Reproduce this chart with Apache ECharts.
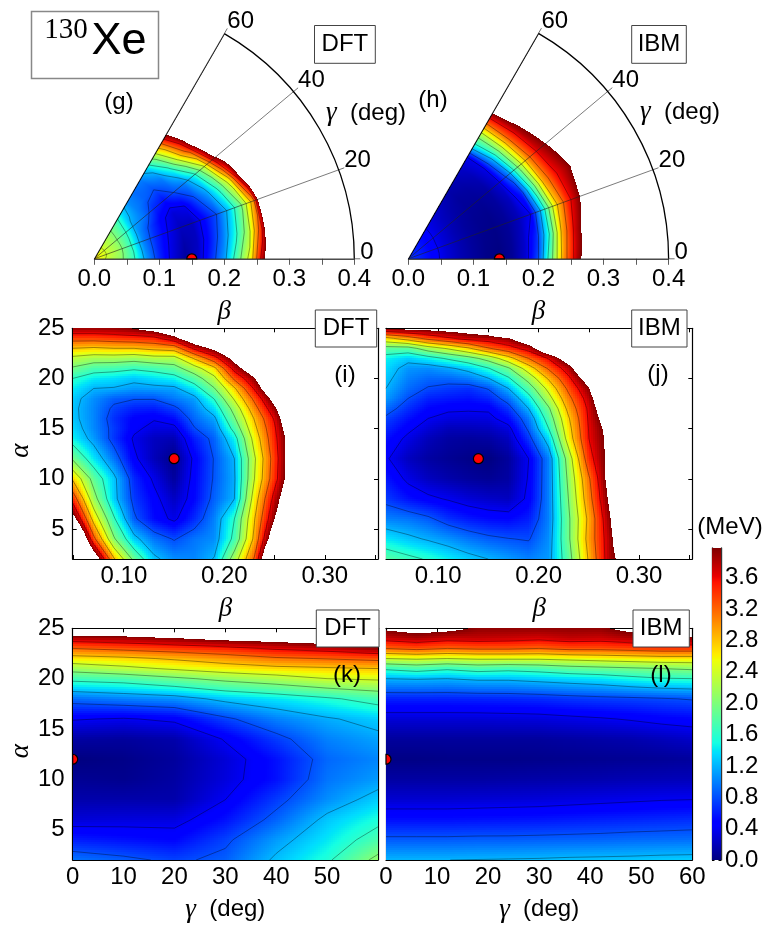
<!DOCTYPE html>
<html><head><meta charset="utf-8">
<style>html,body{margin:0;padding:0;background:#fff}#c{width:772px;height:932px}</style>
<script src="https://cdn.jsdelivr.net/npm/echarts@6/dist/echarts.min.js"></script>
</head><body><div id="c"></div>
<script>
// ---- values (MeV); rows go bottom to top ----
const energyMax = 3.98;
const contourLevels = [0.4,0.8,1.2,1.6,2.0,2.4,2.8,3.2,3.6];
const colorbarTicks = [0,0.4,0.8,1.2,1.6,2.0,2.4,2.8,3.2,3.6];

const betaG = [0,.02,.04,.06,.08,.10,.12,.14,.16,.18,.20,.22,.24,.26,.28];
const gammaRowsPolar = [0,10,20,30,40,50,60];
const energyG = [
 [2.7,2.35,2.1,1.67,1.1,.65,.33,.1,.25,.65,1.1,1.8,2.55,3.88,4.9],
 [2.7,2.38,2.12,1.65,1.03,.63,.35,.15,.22,.55,.95,1.5,2.2,3.4,5.27],
 [2.7,2.4,2.15,1.62,1,.65,.4,.22,.22,.5,.8,1.28,1.95,3,5.74],
 [2.7,2.4,2.13,1.65,1.05,.72,.45,.3,.38,.75,1.1,1.7,2.6,4.25,5.5],
 [2.7,2.4,2.12,1.7,1.12,.95,.65,.55,.82,1,1.5,2.35,3.85,4.6,5.4],
 [2.7,2.4,2.15,1.75,1.25,1,.88,.82,1,1.55,2.45,3.4,4.65,5.5,6.3],
 [2.7,2.4,2.15,1.85,1.4,1.05,.92,1,1.35,2.1,2.95,3.98,4.8,5.6,6.4]
];
const betaH = [0,.02,.04,.06,.08,.10,.12,.14,.16,.18,.20,.22,.24,.26,.28,.30];
const energyH = [
 [.68,.6,.47,.3,.18,.1,.03,0,.08,.28,.8,1.9,3.05,3.83,4.35,5.1],
 [.68,.6,.47,.3,.18,.1,.04,.02,.08,.25,.65,1.6,2.9,3.7,4.28,5],
 [.68,.6,.47,.3,.18,.1,.05,.03,.08,.2,.4,1.4,2.65,3.45,3.96,4.7],
 [.68,.6,.47,.3,.18,.1,.06,.05,.1,.22,.6,1.75,2.95,3.55,3.85,4.2],
 [.68,.6,.48,.32,.2,.12,.08,.08,.12,.3,.95,2.05,3.08,3.7,4.06,4.8],
 [.68,.6,.5,.33,.22,.15,.1,.12,.18,.35,1.2,2.2,3.2,3.85,4.3,5],
 [.68,.6,.5,.36,.27,.2,.15,.18,.25,.38,1.45,2.2,3.2,4.05,4.8,5.5]
];
const alphaRows = [2,4,6,8,10,12,14,15,16,17,18,19,20,21,22,23,24,25];
const betaI = [.049,.07,.09,.11,.13,.15,.17,.19,.21,.23,.25,.27];
const energyI = [
 [6.1,4.43,2.85,1.9,1.27,1.05,1.02,1.22,2.2,3.25,5.28,6.1],
 [5.4,3.3,2.05,1.3,.95,.78,.95,1.05,1.7,2.9,4.45,5.3],
 [4.2,2.65,1.65,.85,.52,.35,.65,1,1.6,2.78,3.98,4.8],
 [3.45,2.15,1.3,.72,.47,.23,.5,.88,1.2,2.6,3.75,4.66],
 [2.75,1.85,1.28,.65,.36,.1,.48,.83,1.17,2.4,3.45,4.5],
 [1.95,1.4,.95,.45,.2,.03,.45,.82,1.2,2.35,3.4,4.47],
 [1.45,1.1,.7,.37,.22,.18,.6,.88,1.45,2.55,3.5,4.39],
 [1.35,1.03,.72,.45,.33,.33,.78,1,1.72,2.7,3.55,4.57],
 [1.28,1.02,.68,.48,.42,.53,.9,1.14,1.95,2.83,3.65,4.8],
 [1.27,1.02,.75,.62,.6,.74,1,1.37,2.15,3.05,3.9,4.9],
 [1.3,1.05,.87,.82,.82,.97,1.12,1.62,2.45,3.3,4.2,5.2],
 [1.42,1.2,1.18,1.1,1.12,1.14,1.42,1.98,2.75,3.65,4.6,5.5],
 [1.6,1.42,1.37,1.28,1.37,1.46,1.8,2.3,3.28,3.95,4.9,5.7],
 [1.95,1.75,1.72,1.65,1.72,1.85,2.23,2.7,3.75,4.4,5.2,6],
 [2.3,2.2,2.2,2.15,2.25,2.25,2.83,3.45,4.15,4.9,5.6,6.4],
 [2.8,2.75,2.8,2.8,2.9,2.97,3.68,4.1,4.7,5.3,6,6.8],
 [3.35,3.35,3.4,3.45,3.5,3.85,4.4,4.8,5.3,5.9,6.5,7.2],
 [3.9,3.9,3.92,4,4.2,4.5,5,5.4,5.9,6.4,7,7.6]
];
const betaJ = [.048,.07,.09,.11,.13,.15,.17,.19,.21,.23,.25,.27,.29];
const energyJ = [
 [1.8,1.68,1.57,1.43,1.3,1.2,1.1,1,1.1,1.85,2.85,3.8,4.33],
 [1.4,1.27,1.17,1.07,.95,.86,.81,.78,1.05,1.95,2.95,3.8,4.76],
 [1,.95,.85,.68,.58,.52,.5,.6,1,1.95,2.9,3.9,4.9],
 [.72,.55,.45,.38,.3,.25,.22,.45,1,2.02,3.05,4.04,4.8],
 [.58,.35,.22,.15,.1,.07,.12,.42,1,2.1,3.15,4.16,4.9],
 [.43,.22,.12,.07,.03,0,.1,.4,1,2.2,3.45,4.12,4.9],
 [.55,.35,.2,.12,.1,.12,.22,.7,1.35,2.6,3.6,4.1,4.9],
 [.65,.45,.3,.2,.2,.22,.33,.85,1.6,2.68,3.62,4.15,4.9],
 [.75,.55,.4,.33,.32,.33,.52,.97,1.77,2.77,3.65,4.3,5.2],
 [.92,.67,.5,.44,.43,.44,.7,1.2,1.95,2.93,3.68,4.5,5.2],
 [1.1,.8,.62,.58,.55,.63,.92,1.45,2.25,3.1,3.78,4.75,5.3],
 [1.2,.92,.78,.72,.68,.82,1.2,1.78,2.52,3.3,3.95,5.1,5.7],
 [1.28,1,.9,.9,.98,1.19,1.55,2.15,2.85,3.53,4.25,5.4,6],
 [1.36,1.08,1.05,1.15,1.3,1.58,1.95,2.6,3.25,3.8,4.7,5.6,6.4],
 [1.45,1.3,1.45,1.65,1.85,2.15,2.65,3.2,3.63,4.3,5.2,6,6.8],
 [1.85,1.85,2.2,2.45,2.75,3.17,3.45,3.75,4.5,5,5.6,6.4,7.2],
 [2.7,3,3.32,3.55,3.75,3.81,3.95,4.4,5,5.6,6.2,7,7.8],
 [4.05,4.13,4.15,4.2,4.24,4.37,5,5.5,6,6.5,7,7.6,8.2]
];
const alphaRowsGamma = [2,4,6,8,10,12,14,16,18,20,21,22,23,24,25];
const gammaK = [0,10,20,30,40,50,60];
const energyK = [
 [.95,.86,.75,.87,1.25,1.55,2.1],
 [.6,.55,.5,.75,1.1,1.4,1.75],
 [.3,.32,.33,.55,.88,1.27,1.52],
 [.15,.15,.15,.4,.72,1.05,1.3],
 [.07,.05,.12,.32,.55,.95,1.1],
 [0,.03,.1,.3,.55,.9,1.02],
 [.12,.1,.15,.42,.72,1,1.13],
 [.42,.38,.45,.75,1,1.17,1.3],
 [.92,1,1.07,1.28,1.4,1.55,1.73],
 [1.7,1.76,1.93,2.1,2.23,2.4,2.45],
 [2.15,2.3,2.45,2.6,2.7,2.75,2.8],
 [2.65,2.72,2.85,3,3.15,3.22,3.3],
 [3.2,3.3,3.4,3.5,3.65,3.75,3.93],
 [3.8,3.85,3.96,4.1,4.17,4.27,4.23],
 [4.6,4.5,4.7,4.9,5,5.1,5.1]
];
const gammaL = [0,6,12,18,24,30,36,42,48,54,60];
const energyL = [
 [1.2,1.2,1.2,1.21,1.22,1.23,1.25,1.26,1.27,1.29,1.3],
 [.85,.85,.85,.86,.86,.87,.88,.89,.91,.92,.93],
 [.54,.54,.54,.55,.56,.57,.59,.61,.63,.65,.67],
 [.28,.28,.28,.29,.3,.31,.33,.35,.37,.39,.4],
 [.12,.12,.12,.12,.13,.14,.15,.16,.18,.19,.2],
 [.02,.02,.03,.03,.03,.04,.05,.06,.07,.08,.1],
 [.1,.1,.1,.1,.1,.1,.12,.14,.16,.2,.25],
 [.3,.3,.3,.3,.31,.32,.35,.38,.42,.47,.5],
 [.62,.62,.62,.63,.64,.66,.7,.73,.75,.78,.82],
 [1.2,1.22,1.2,1.25,1.25,1.3,1.35,1.4,1.5,1.58,1.6],
 [1.65,1.75,1.65,1.75,1.7,1.75,1.85,1.9,1.95,2,2.05],
 [2.4,2.45,2.4,2.45,2.45,2.45,2.5,2.55,2.6,2.65,2.65],
 [3.2,3.3,3.2,3.25,3.25,3.2,3.3,3.3,3.35,3.4,3.4],
 [3.72,3.82,3.72,3.75,3.72,3.68,3.75,3.72,3.8,3.85,3.96],
 [4.05,4.15,4.1,3.93,3.93,3.93,3.93,3.93,4.1,4,4.2]
];
// energy minima
const minimumG = [0.15,0], minimumH = [0.14,0], minimumI = [0.15,12], minimumJ = [0.14,12], minimumK = [0,12], minimumL = [0,12];
// axis ticks
const betaPolarTicks = [0,.05,.1,.15,.2,.25,.3,.35,.4], betaPolarLabels = [0,.1,.2,.3,.4];
const betaTicks = [.05,.1,.15,.2,.25,.3,.35], betaLabels = [.1,.2,.3];
const alphaTicks = [5,10,15,20,25];
const gammaTicks = [0,10,20,30,40,50,60];
const gammaLabelsK = [0,10,20,30,40,50];
const polarEdgeBeta = [0,0.4];
const polarBetaMax = 0.4;

// ---- drawing ----
const SANS='"Liberation Sans",Arial,sans-serif', SERIF='"Liberation Serif",serif';
function jet(v){
  const t=Math.max(0,Math.min(1,v/energyMax));
  const seg=(pts)=>{for(let k=1;k<pts.length;k++){if(t<=pts[k][0]){const a=pts[k-1],b=pts[k];return a[1]+(b[1]-a[1])*(t-a[0])/(b[0]-a[0]);}}return pts[pts.length-1][1];};
  const r=seg([[0,0],[.35,0],[.66,1],[.89,1],[1,.5]]);
  const g=seg([[0,0],[.125,0],[.375,1],[.64,1],[.91,0],[1,0]]);
  const b=seg([[0,.5],[.11,1],[.34,1],[.65,0],[1,0]]);
  return 'rgb('+Math.round(r*255)+','+Math.round(g*255)+','+Math.round(b*255)+')';
}
function cells(xs,ys){const d=[];for(let j=0;j<ys.length-1;j++)for(let i=0;i<xs.length-1;i++)d.push([i,j]);return d;}
function fillSeries(xs,ys,z,sys,idx){
  const polar=sys==='polar';
  return Object.assign({type:'custom',coordinateSystem:sys,silent:true,z:2,progressive:0,animation:false,clip:false,
    data:cells(xs,ys),
    renderItem(params,api){
      const i=api.value(0),j=api.value(1);
      const a=z[j][i],b=z[j][i+1],c=z[j+1][i],d=z[j+1][i+1];
      if(Math.min(a,b,c,d)>energyMax) return null;
      const val=(t,u)=>a*(1-t)*(1-u)+b*t*(1-u)+c*(1-t)*u+d*t*u;
      const x0=xs[i],x1=xs[i+1],y0=ys[j],y1=ys[j+1];
      const ch=[];
      const rect=(x,y,w,h,v)=>ch.push({type:'rect',shape:{x,y,width:w,height:h},style:{fill:jet(v)}});
      if(!polar){
        const p0=api.coord([x0,y0]),p1=api.coord([x1,y1]);
        const L=Math.round(p0[0]),R=Math.round(p1[0]),B=Math.round(p0[1]),T=Math.round(p1[1]);
        const at=(px,py)=>val((px-p0[0])/(p1[0]-p0[0]),(p0[1]-py)/(p0[1]-p1[1]));
        for(let py=T;py<B;py+=2){const h=Math.min(2,B-py);
          for(let px=L;px<R;px+=2){const w=Math.min(2,R-px);
            const cs=[at(px,py),at(px+w,py),at(px,py+h),at(px+w,py+h)];
            const lo=Math.min.apply(null,cs),hi=Math.max.apply(null,cs);
            if(lo>energyMax) continue;
            if(hi<=energyMax){rect(px,py,w,h,at(px+w/2,py+h/2));continue;}
            for(let qy=py;qy<py+h;qy++)for(let qx=px;qx<px+w;qx++){
              const v=at(qx+.5,qy+.5); if(v<=energyMax) rect(qx,qy,1,1,v);
            }
          }}
      } else {
        const O=api.coord([0,0]),E=api.coord([polarBetaMax,0]),k=(E[0]-O[0])/polarBetaMax,rad=Math.PI/180;
        const r0=x0*k,r1=x1*k;
        const xa=Math.floor(O[0]+r0*Math.cos(y1*rad)),xb=Math.ceil(O[0]+r1*Math.cos(y0*rad));
        const ya=Math.floor(O[1]-r1*Math.sin(y1*rad)),yb=Math.ceil(O[1]-r0*Math.sin(y0*rad));
        for(let py=ya;py<yb;py++)for(let px=xa;px<xb;px++){
          const dx=px+.5-O[0],dy=O[1]-py-.5;
          const t=(Math.hypot(dx,dy)/k-x0)/(x1-x0),u=(Math.atan2(dy,dx)/rad-y0)/(y1-y0);
          if(t<0||t>=1||u<0||u>=1) continue;
          const v=val(t,u); if(v<=energyMax) rect(px,py,1,1,v);
        }
      }
      return {type:'group',children:ch};
    }},idx);
}
function contourSeries(xs,ys,z,sys,idx){
  return Object.assign({type:'custom',coordinateSystem:sys,silent:true,z:3,progressive:0,animation:false,clip:false,
    data:cells(xs,ys),
    renderItem(params,api){
      const i=api.value(0),j=api.value(1);
      const a=z[j][i],b=z[j][i+1],c=z[j+1][i],d=z[j+1][i+1];
      const x0=xs[i],x1=xs[i+1],y0=ys[j],y1=ys[j+1],ch=[];
      const sty={stroke:'rgba(0,0,0,.5)',lineWidth:.7,fill:null};
      contourLevels.forEach(level=>{
        const l=level+0.001; // keeps the line whole where a value sits exactly on the level
        const pts=[];
        const cross=(p,q)=>(p-l)*(q-l)<0?(l-p)/(q-p):null;
        let f;
        if((f=cross(a,b))!==null)pts.push([x0+(x1-x0)*f,y0]);
        if((f=cross(b,d))!==null)pts.push([x1,y0+(y1-y0)*f]);
        if((f=cross(c,d))!==null)pts.push([x0+(x1-x0)*f,y1]);
        if((f=cross(a,c))!==null)pts.push([x0,y0+(y1-y0)*f]);
        for(let k=0;k+1<pts.length;k+=2){
          const P=api.coord(pts[k]),Q=api.coord(pts[k+1]);
          ch.push({type:'line',shape:{x1:P[0],y1:P[1],x2:Q[0],y2:Q[1]},style:sty});
        }
      });
      return {type:'group',children:ch};
    }},idx);
}
// cut: which half of the marker stays inside the frame
function dotSeries(point,sys,idx,cut){
  return Object.assign({type:'custom',coordinateSystem:sys,silent:true,z:6,animation:false,clip:false,data:[point],
    renderItem(params,api){
      const p=api.coord([api.value(0),api.value(1)]);
      const sty={fill:'#ff0000',stroke:'#000',lineWidth:1.2};
      if(!cut) return {type:'circle',shape:{cx:p[0],cy:p[1],r:5},style:sty};
      const ang=cut==='up'?[Math.PI,2*Math.PI]:[-Math.PI/2,Math.PI/2];
      return {type:'sector',shape:{cx:p[0],cy:p[1],r0:0,r:5,startAngle:ang[0],endAngle:ang[1],clockwise:true},style:sty};
    }},idx);
}

const axisLine={onZero:false,lineStyle:{color:'#000',width:1.2}};
const tickStyle={color:'#000',width:1};
const labelStyle={color:'#000',fontFamily:SANS,fontSize:24};
const nameRich={g:{fontFamily:SERIF,fontStyle:'italic',fontSize:27,color:'#000'},t:{fontFamily:SANS,fontStyle:'normal',fontSize:24,color:'#000'}};
const grids=[],xAxes=[],yAxes=[],series=[];
function addRect(box,xr,yr,xticks,xlabels,fmt,yLabels,xname,yname){
  const g=grids.length; grids.push(Object.assign({containLabel:false},box));
  const xi=xAxes.length,yi=yAxes.length;
  xAxes.push({gridIndex:g,type:'value',position:'bottom',min:xr[0],max:xr[1],axisLine,splitLine:{show:false},
    axisTick:{inside:true,length:4,lineStyle:tickStyle,customValues:xticks},
    axisLabel:Object.assign({margin:5,customValues:xlabels,formatter:fmt},labelStyle),
    name:xname,nameLocation:'middle',nameGap:36,nameTextStyle:{rich:nameRich,fontFamily:SERIF,fontStyle:'italic',fontSize:27,color:'#000'}});
  xAxes.push({gridIndex:g,type:'value',position:'top',min:xr[0],max:xr[1],axisLine,splitLine:{show:false},
    axisTick:{inside:true,length:4,lineStyle:tickStyle,customValues:xticks},axisLabel:{show:false}});
  yAxes.push({gridIndex:g,type:'value',position:'left',min:yr[0],max:yr[1],axisLine,splitLine:{show:false},
    axisTick:{inside:true,length:4,lineStyle:tickStyle,customValues:alphaTicks},
    axisLabel:Object.assign({show:yLabels,margin:8,customValues:alphaTicks},labelStyle),
    name:yname,nameLocation:'middle',nameGap:38,nameTextStyle:{fontFamily:SERIF,fontStyle:'italic',fontSize:27,color:'#000',padding:[0,14,0,0]}});
  yAxes.push({gridIndex:g,type:'value',position:'right',min:yr[0],max:yr[1],axisLine,splitLine:{show:false},
    axisTick:{inside:true,length:4,lineStyle:tickStyle,customValues:alphaTicks},axisLabel:{show:false}});
  return {xAxisIndex:xi,yAxisIndex:yi};
}
const fmt2=v=>v.toFixed(2), fmt1=v=>v.toFixed(1), fmt0=v=>String(v);
const gammaName='{g|γ}{t|  (deg)}';
const I=addRect({left:72.7,top:328.3,width:305.3,height:230.7},[betaI[0],.353],[2,25],betaTicks,betaLabels,fmt2,true,'β','α');
const J=addRect({left:386,top:328.3,width:306.3,height:230.7},[betaJ[0],.353],[2,25],betaTicks,betaLabels,fmt2,false,'β','');
const K=addRect({left:72.7,top:628.3,width:305.3,height:231.7},[0,60],[2,25],gammaTicks,gammaLabelsK,fmt0,true,gammaName,'α');
const L=addRect({left:386,top:628.3,width:306.3,height:231.7},[0,60],[2,25],gammaTicks,gammaTicks,fmt0,false,gammaName,'');

series.push(fillSeries(betaI,alphaRows,energyI,'cartesian2d',I),contourSeries(betaI,alphaRows,energyI,'cartesian2d',I),dotSeries(minimumI,'cartesian2d',I));
series.push(fillSeries(betaJ,alphaRows,energyJ,'cartesian2d',J),contourSeries(betaJ,alphaRows,energyJ,'cartesian2d',J),dotSeries(minimumJ,'cartesian2d',J));
series.push(fillSeries(gammaK,alphaRowsGamma,energyK,'cartesian2d',K),contourSeries(gammaK,alphaRowsGamma,energyK,'cartesian2d',K),dotSeries(minimumK,'cartesian2d',K,'right'));
series.push(fillSeries(gammaL,alphaRowsGamma,energyL,'cartesian2d',L),contourSeries(gammaL,alphaRowsGamma,energyL,'cartesian2d',L),dotSeries(minimumL,'cartesian2d',L,'right'));

// polar wedges
const polars=[{center:[94.3,258.8],radius:260},{center:[408.3,258.8],radius:260.3}];
const angleAxes=[0,1].map(k=>({polarIndex:k,type:'value',min:0,max:60,interval:20,startAngle:0,endAngle:60,clockwise:false,z:4,
  axisLine:{lineStyle:{color:'#000',width:1.3}},
  axisTick:{show:true,length:6,inside:false,lineStyle:{color:'#333',width:.7}},
  splitLine:{show:true,lineStyle:{color:'#222',width:.6}},
  axisLabel:Object.assign({margin:6,formatter:v=>v===0?'{z|0}':'{d|'+v+'}',
    rich:{z:{fontFamily:SANS,fontSize:24,color:'#000',padding:[0,0,12,0]},d:{fontFamily:SANS,fontSize:24,color:'#000',lineHeight:14}}},labelStyle)}));
const radiusAxes=[0,1].map(k=>({polarIndex:k,type:'value',min:0,max:polarBetaMax,axisLine:{show:false},axisTick:{show:false},axisLabel:{show:false},splitLine:{show:false}}));
[[betaG,energyG,minimumG],[betaH,energyH,minimumH]].forEach((p,k)=>{
  const idx={polarIndex:k};
  series.push(fillSeries(p[0],gammaRowsPolar,p[1],'polar',idx),contourSeries(p[0],gammaRowsPolar,p[1],'polar',idx));
  series.push(dotSeries(p[2],'polar',idx,'up'));
  series.push({type:'line',coordinateSystem:'polar',polarIndex:k,silent:true,z:5,animation:false,symbol:'none',
    lineStyle:{color:'#000',width:1.4},data:polarEdgeBeta.map(b=>[b,60])});
  // beta axis under the wedge
  const g=grids.length; grids.push({left:polars[k].center[0],top:257.8,width:polars[k].radius,height:1});
  xAxes.push({gridIndex:g,type:'value',position:'bottom',min:0,max:polarBetaMax,axisLine:{onZero:false,lineStyle:{color:'#555',width:1}},splitLine:{show:false},
    axisTick:{inside:false,length:6,lineStyle:{color:'#333',width:.8},customValues:betaPolarTicks},
    axisLabel:Object.assign({margin:9,customValues:betaPolarLabels,formatter:fmt1},labelStyle),
    name:'β',nameLocation:'middle',nameGap:40,nameTextStyle:{fontFamily:SERIF,fontStyle:'italic',fontSize:27,color:'#000'}});
  yAxes.push({gridIndex:g,type:'value',show:false,min:0,max:1});
});
// colour bar
const cbRange=[0,energyMax];
const cbLine={onZero:false,lineStyle:{color:'#333',width:1.4}};
const cg=grids.length; grids.push({left:712,top:548,width:9,height:312});
const cx=xAxes.length,cy=yAxes.length;
xAxes.push({gridIndex:cg,type:'value',show:false,min:0,max:1});
yAxes.push({gridIndex:cg,type:'value',position:'left',min:0,max:energyMax,axisLine:cbLine,splitLine:{show:false},
  axisTick:{inside:true,length:2.5,lineStyle:tickStyle,customValues:colorbarTicks},axisLabel:{show:false}});
yAxes.push({gridIndex:cg,type:'value',position:'right',min:0,max:energyMax,axisLine:cbLine,splitLine:{show:false},
  axisTick:{inside:true,length:2.5,lineStyle:tickStyle,customValues:colorbarTicks},
  axisLabel:Object.assign({margin:4,customValues:colorbarTicks,formatter:fmt1},labelStyle)});
series.push({type:'custom',coordinateSystem:'cartesian2d',xAxisIndex:cx,yAxisIndex:cy,silent:true,z:2,animation:false,data:[cbRange],
  renderItem(params,api){
    const lo=api.value(0),hi=api.value(1),a=api.coord([0,lo]),b=api.coord([1,hi]),ch=[];
    for(let y=Math.round(b[1]);y<Math.round(a[1]);y++){
      const v=lo+(hi-lo)*(a[1]-y-.5)/(a[1]-b[1]);
      ch.push({type:'rect',shape:{x:a[0],y:y,width:b[0]-a[0],height:1},style:{fill:jet(v)}});
    }
    return {type:'group',children:ch};
  }});

// boxes and labels
function box(text,x0,x1,y0,y1){
  return [{type:'rect',z:20,shape:{x:x0,y:y0,width:x1-x0,height:y1-y0},style:{fill:'#fff',stroke:'#444',lineWidth:1}},
          {type:'text',z:21,style:{text,x:(x0+x1)/2,y:(y0+y1)/2,align:'center',verticalAlign:'middle',font:'24px '+SANS,fill:'#000'}}];
}
function txt(text,x,y,font){return {type:'text',z:21,style:{text,x,y,align:'center',verticalAlign:'middle',font:font||('24px '+SANS),fill:'#000'}};}
const graphicEls=[].concat(
  box('DFT',314.5,375.3,25.5,63.3),box('IBM',631.7,686.3,25.5,63.3),
  box('DFT',315.3,376.7,310,347),box('IBM',631.7,687,310,347),
  box('DFT',316.3,379,610,647),box('IBM',633,689.3,610,647),
  [{type:'rect',z:20,shape:{x:31.5,y:11.5,width:127,height:67},style:{fill:'#fff',stroke:'#888',lineWidth:1.5}},
   txt('130',66,30,'29px '+SERIF),txt('Xe',119,42,'45px '+SANS)],
  [txt('(g)',119,102),txt('(h)',433,100),txt('(i)',345,375),txt('(j)',658,374),txt('(k)',347,675),txt('(l)',661,675),txt('(MeV)',730,527)],
  [{type:'text',z:21,style:{x:366,y:113,align:'center',verticalAlign:'middle',rich:nameRich,text:gammaName}},
   {type:'text',z:21,style:{x:680,y:112,align:'center',verticalAlign:'middle',rich:nameRich,text:gammaName}}]
);

const chart=echarts.init(document.getElementById('c'),null,{renderer:'canvas'});
chart.setOption({animation:false,backgroundColor:'#fff',grid:grids,xAxis:xAxes,yAxis:yAxes,polar:polars,angleAxis:angleAxes,radiusAxis:radiusAxes,series,graphic:{elements:graphicEls}});
</script></body></html>
